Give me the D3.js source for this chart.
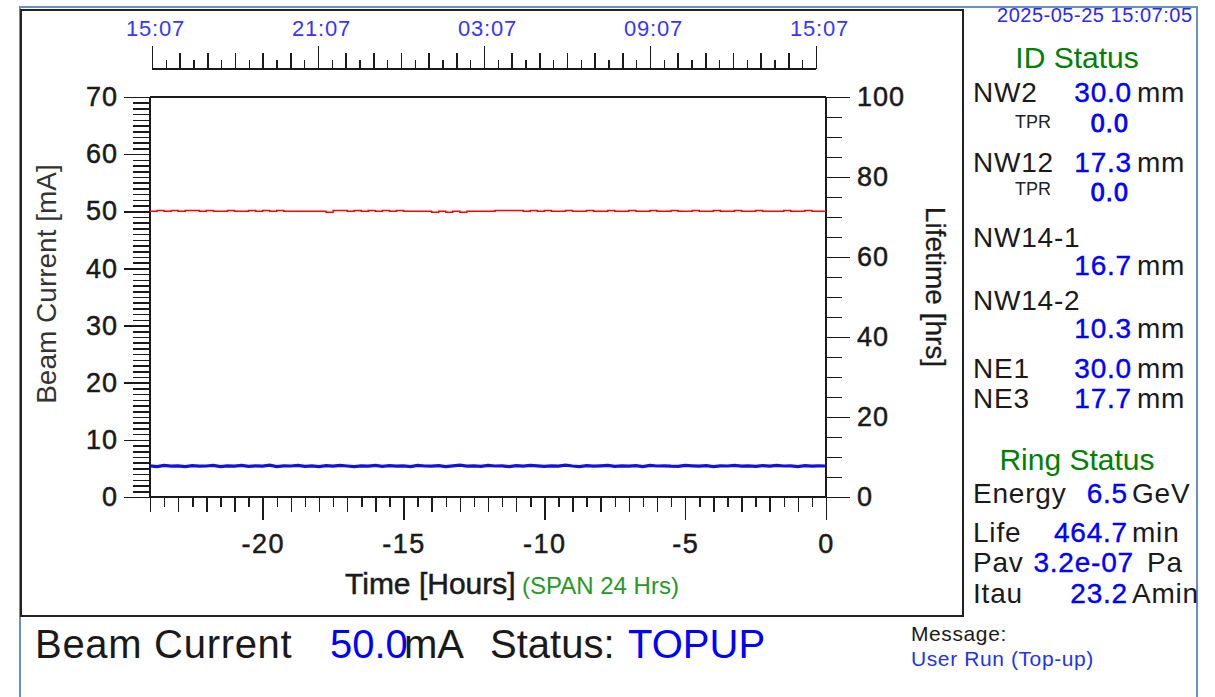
<!DOCTYPE html>
<html><head><meta charset="utf-8">
<script src="https://cdn.jsdelivr.net/npm/d3@7"></script>
<style>
html,body{margin:0;padding:0;background:#fff;}
svg{display:block;font-family:"Liberation Sans",Arial,sans-serif;}
</style></head><body>
<svg id="c" width="1215" height="697"></svg>
<script>
// ---------------- data ----------------
const sampleHours = d3.range(-24, 0.001, 0.25);   // 15-minute samples over the 24 h span
const beamCurrent = [
 50.0,50.15,50.0,50.15,50.0,50.15,50.15,50.0,50.15,50.0,
 50.0,50.15,50.0,50.0,50.15,50.0,50.15,50.0,50.15,50.0,
 50.0,50.0,50.0,50.0,50.0,49.85,50.15,50.15,50.0,50.15,
 50.0,50.15,50.0,50.15,50.0,50.15,50.0,50.0,50.0,50.0,
 49.85,50.0,49.85,50.0,49.85,50.0,50.0,50.0,50.0,50.15,
 50.15,50.15,50.15,50.0,50.15,50.0,50.15,50.0,50.0,50.15,
 50.0,50.0,50.15,50.0,50.0,50.15,50.0,50.0,50.15,50.0,
 50.0,50.15,50.0,50.0,50.15,50.0,50.0,50.15,50.0,50.0,
 50.15,50.0,50.0,50.15,50.0,50.0,50.15,50.0,50.0,50.0,
 50.15,50.0,50.0,50.15,50.0,50.0,50.0
];
const lifetimeHrs = [
 7.8,7.6,7.9,7.7,7.8,7.6,7.85,7.7,7.75,7.9,7.6,7.8,7.7,7.9,7.65,7.8,
 7.7,7.95,7.6,7.8,7.75,7.9,7.65,7.8,7.6,7.85,7.7,7.9,7.75,7.6,7.8,7.7,
 7.9,7.65,7.85,7.7,7.8,7.6,7.9,7.75,7.7,7.85,7.6,7.8,7.95,7.7,7.8,7.65,
 7.9,7.75,7.8,7.6,7.85,7.7,7.9,7.8,7.65,7.8,7.7,7.95,7.75,7.6,7.85,7.7,
 7.8,7.9,7.65,7.8,7.7,7.85,7.6,7.9,7.75,7.8,7.7,7.65,7.9,7.8,7.7,7.85,
 7.6,7.8,7.75,7.9,7.7,7.8,7.65,7.85,7.7,7.9,7.75,7.8,7.6,7.85,7.7,7.8,7.75
];
const bottomTicks = [-20,-15,-10,-5,0];
const leftTicks = [0,10,20,30,40,50,60,70];
const rightTicks = [0,20,40,60,80,100];
const topTickLabels = ["15:07","21:07","03:07","09:07","15:07"];
const timestamp = "2025-05-25 15:07:05";

const idLabels = ["NW2","NW12","NW14-1","NW14-2","NE1","NE3"];
const idValues = ["30.0","17.3","16.7","10.3","30.0","17.7"];
const idUnits  = ["mm","mm","mm","mm","mm","mm"];
const tprValues = ["0.0","0.0"];
const ringLabels = ["Energy","Life","Pav","Itau"];
const ringValues = ["6.5","464.7","3.2e-07","23.2"];
const ringUnits  = ["GeV","min","Pa","Amin"];

// ---------------- drawing ----------------
const svg = d3.select("#c");
const INK = "#1a1a1a";
const BLUE = "#0000ff";
const fmtInt = d => String(d);   // plain hyphen-minus like the reference

// outer frame
svg.append("path").attr("d","M20,697V7H1197V697").attr("fill","none")
  .attr("stroke","#6a8fc6").attr("stroke-width",2);
// inner chart box
svg.append("rect").attr("x",21).attr("y",10).attr("width",942).attr("height",606)
  .attr("fill","none").attr("stroke","#222").attr("stroke-width",2);

const x = d3.scaleLinear().domain([-24,0]).range([150,826]);
const yL = d3.scaleLinear().domain([0,70]).range([497,97]);
const yR = d3.scaleLinear().domain([0,100]).range([497,97]);
const t0 = new Date(2025,4,24,15,7), t1 = new Date(2025,4,25,15,7);
const xTop = d3.scaleTime().domain([t0,t1]).range([152,816]);

function styleAxis(g, size, color, heavy){
  g.select(".domain").remove();
  g.attr("font-family","'Liberation Sans',Arial,sans-serif").attr("font-size",size);
  g.selectAll("line").attr("stroke",INK).attr("stroke-width",1.5).attr("shape-rendering","crispEdges");
  g.selectAll("text").attr("fill",color||INK);
  if (heavy) g.selectAll("text").attr("stroke",color||INK).attr("stroke-width",0.5);
}

// ---- top time axis ----
const halfH = d3.range(0, 24.01, 0.5).map(h => d3.timeMinute.offset(t0, h*60));
const oneH  = d3.range(0, 24.01, 1).map(h => d3.timeMinute.offset(t0, h*60));
const sixH  = topTickLabels.map((_,i) => d3.timeHour.offset(t0, i*6));
[[halfH,9],[oneH,16]].forEach(([vals,s])=>{
  const g = svg.append("g").attr("transform","translate(0,69)")
    .call(d3.axisTop(xTop).tickValues(vals).tickSize(s).tickFormat(""));
  styleAxis(g,22);
});
const gTop = svg.append("g").attr("transform","translate(0,69)")
  .call(d3.axisTop(xTop).tickValues(sixH).tickSize(23).tickPadding(10)
        .tickFormat((d,i)=>topTickLabels[i]));
styleAxis(gTop,22,"#3535ff");
gTop.selectAll("text").attr("dx",3).attr("letter-spacing",0.8);
svg.append("line").attr("x1",xTop(t0)).attr("x2",xTop(t1)).attr("y1",69).attr("y2",69)
  .attr("stroke",INK).attr("stroke-width",2);

// ---- bottom axis ----
[[d3.range(-24,0.01,0.5),10],[d3.range(-24,0.01,1),15]].forEach(([vals,s])=>{
  const g = svg.append("g").attr("transform","translate(0,497)")
    .call(d3.axisBottom(x).tickValues(vals).tickSize(s).tickFormat(""));
  styleAxis(g,27);
});
const gB = svg.append("g").attr("transform","translate(0,497)")
  .call(d3.axisBottom(x).tickValues(bottomTicks).tickSize(23).tickPadding(14).tickFormat(fmtInt));
styleAxis(gB,27,INK,true);
gB.selectAll("text").attr("letter-spacing",1.5);

// ---- left axis ----
const gLm = svg.append("g").attr("transform","translate(150,0)")
  .call(d3.axisLeft(yL).tickValues(d3.range(0,70.01,1)).tickSize(17).tickFormat(""));
styleAxis(gLm,27);
const gL = svg.append("g").attr("transform","translate(150,0)")
  .call(d3.axisLeft(yL).tickValues(leftTicks).tickSize(26).tickPadding(6).tickFormat(fmtInt));
styleAxis(gL,27,INK,true);
gL.selectAll("text").attr("letter-spacing",1);

// ---- right axis ----
const gRm = svg.append("g").attr("transform","translate(826,0)")
  .call(d3.axisRight(yR).tickValues(d3.range(0,100.01,5)).tickSize(16).tickFormat(""));
styleAxis(gRm,27);
const gR = svg.append("g").attr("transform","translate(826,0)")
  .call(d3.axisRight(yR).tickValues(rightTicks).tickSize(24).tickPadding(7).tickFormat(fmtInt));
styleAxis(gR,27,INK,true);
gR.selectAll("text").attr("letter-spacing",1);

// plot frame lines
const frame = svg.append("g").attr("stroke",INK).attr("stroke-width",2).attr("shape-rendering","crispEdges");
frame.append("line").attr("x1",x(-24)).attr("x2",x(-24)).attr("y1",yL(70)).attr("y2",yL(0));
frame.append("line").attr("x1",x(0)).attr("x2",x(0)).attr("y1",yL(70)).attr("y2",yL(0));
frame.append("line").attr("x1",x(-24)).attr("x2",x(0)).attr("y1",yL(70)).attr("y2",yL(70));
frame.append("line").attr("x1",x(-24)).attr("x2",x(0)).attr("y1",yL(0)).attr("y2",yL(0));

// ---- series ----
const lineL = d3.line().x((d,i)=>x(sampleHours[i])).y(d=>yL(d)).curve(d3.curveStepAfter);
const lineR = d3.line().x((d,i)=>x(sampleHours[i])).y(d=>yR(d));
svg.append("path").datum(lifetimeHrs).attr("d",lineR).attr("fill","none")
  .attr("stroke","#1212dc").attr("stroke-width",3.2);
svg.append("path").datum(beamCurrent).attr("d",lineL).attr("fill","none")
  .attr("stroke","#ff0000").attr("stroke-width",1.5);

// ---- axis titles ----
svg.append("text").attr("transform","translate(56,284) rotate(-90)").attr("text-anchor","middle")
  .attr("font-size",28).attr("fill","#333").text("Beam Current [mA]");
svg.append("text").attr("transform","translate(926,287) rotate(90)").attr("text-anchor","middle")
  .attr("font-size",28).attr("fill",INK).attr("stroke",INK).attr("stroke-width",0.3).text("Lifetime [hrs]");
svg.append("text").attr("x",345).attr("y",594).attr("font-size",30).attr("fill",INK)
  .attr("stroke",INK).attr("stroke-width",0.5).text("Time [Hours]");
svg.append("text").attr("x",522).attr("y",594).attr("font-size",24).attr("fill","#249a24").text("(SPAN 24 Hrs)");

// ---- bottom status band ----
const band = svg.append("g").attr("font-size",40);
band.append("text").attr("x",35).attr("y",658).attr("fill",INK).attr("letter-spacing",0.7).text("Beam Current");
band.append("text").attr("x",330).attr("y",658).attr("fill",BLUE).text(beamCurrent[beamCurrent.length-1].toFixed(1));
band.append("text").attr("x",404).attr("y",658).attr("fill",INK).text("mA");
band.append("text").attr("x",490).attr("y",658).attr("fill",INK).text("Status:");
band.append("text").attr("x",628).attr("y",658).attr("fill",BLUE).text("TOPUP");
svg.append("text").attr("x",911).attr("y",641).attr("font-size",21).attr("fill",INK).attr("letter-spacing",0.6).text("Message:");
svg.append("text").attr("x",911).attr("y",666).attr("font-size",21).attr("fill","#2233ee").attr("letter-spacing",0.6).text("User Run (Top-up)");

// ---- right status panel ----
svg.append("text").attr("x",997).attr("y",22).attr("font-size",20).attr("fill","#2a2aee").attr("textLength",195).text(timestamp);
svg.append("text").attr("x",1077).attr("y",68).attr("text-anchor","middle").attr("font-size",30).attr("fill","#008000").text("ID Status");
svg.append("text").attr("x",1077).attr("y",470).attr("text-anchor","middle").attr("font-size",30).attr("fill","#008000").text("Ring Status");

const panel = svg.append("g").attr("font-size",28).attr("letter-spacing",0.8);
const idLabelY = [102,172,247,310,378,408];
const idValueY = [102,172,275,338,378,408];
idLabels.forEach((l,i)=>{
  panel.append("text").attr("x",973).attr("y",idLabelY[i]).attr("fill",INK).text(l);
  panel.append("text").attr("x",1132).attr("y",idValueY[i]).attr("text-anchor","end").attr("fill",BLUE)
    .attr("stroke",BLUE).attr("stroke-width",0.4).text(idValues[i]);
  panel.append("text").attr("x",1137).attr("y",idValueY[i]).attr("fill",INK).text(idUnits[i]);
});
const tprY = [[128,132],[195,201]];
tprValues.forEach((v,i)=>{
  svg.append("text").attr("x",1015).attr("y",tprY[i][0]).attr("font-size",18).attr("fill","#222").text("TPR");
  svg.append("text").attr("x",1129).attr("y",tprY[i][1]).attr("text-anchor","end").attr("font-size",25)
    .attr("letter-spacing",1.2).attr("fill",BLUE).attr("stroke",BLUE).attr("stroke-width",0.9).text(v);
});
const ringY = [503,542,572,603];
ringLabels.forEach((l,i)=>{
  panel.append("text").attr("x",973).attr("y",ringY[i]).attr("fill",INK).text(l);
  panel.append("text").attr("x",1128).attr("y",ringY[i]).attr("text-anchor","end").attr("fill",BLUE)
    .attr("stroke",BLUE).attr("stroke-width",0.4).attr("dx", i===2 ? 6 : 0).text(ringValues[i]);
  panel.append("text").attr("x", i===2 ? 1147 : 1132).attr("y",ringY[i]).attr("fill",INK).text(ringUnits[i]);
});
</script>
</body></html>
